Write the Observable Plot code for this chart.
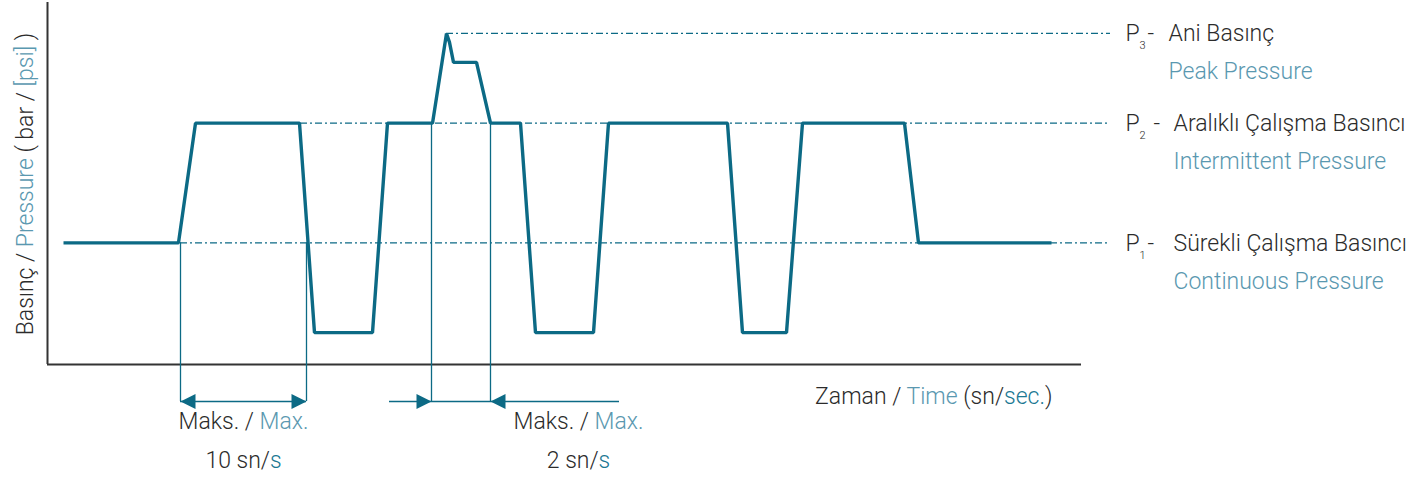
<!DOCTYPE html>
<html><head><meta charset="utf-8">
<script src="https://cdn.jsdelivr.net/npm/d3@7"></script>
<script src="https://cdn.jsdelivr.net/npm/@observablehq/plot@0.6"></script>
<style>
html,body{margin:0;padding:0;background:#fff;}
</style>
</head><body><div id="chart"></div>
<script>
// ---- data (schematic time units / pressure units) ----
const traceTime = [1.6, 13.1, 14.8, 25.2, 26.7, 32.5, 34.0, 38.5, 39.9, 40.2, 40.6, 42.9, 44.3, 47.3, 48.8, 54.6, 56.1, 68.0, 69.5, 73.9, 75.5, 85.7, 87.1, 100.4];
const tracePressure = [1.22, 1.22, 2.42, 2.42, 0.32, 0.32, 2.42, 2.42, 3.32, 3.23, 3.03, 3.03, 2.42, 2.42, 0.32, 0.32, 2.42, 2.42, 0.32, 0.32, 2.42, 2.42, 1.22, 1.22];

const levelValue = [3.32, 2.42, 1.22];
const levelStart = [39.9, 14.8, 13.3];
const levelEnd = 106.3;
const levelSub = ["3", "2", "1"];
const levelDash = ["-", "-", "-"];
const levelTurkish = ["Ani Basınç", "Aralıklı Çalışma Basıncı", "Sürekli Çalışma Basıncı"];
const levelEnglish = ["«Peak Pressure»", "«Intermittent Pressure»", "«Continuous Pressure»"];

const spanTime = [13.3, 25.9, 38.4, 44.3];
const spanFrom = [1.22, 1.22, 2.42, 2.42];
const arrowDir = ["left", "right", "right", "left"];
const arrowLevel = -0.371;
const leaderTime = [[13.3, 25.9], [34.2, 38.4], [38.4, 44.3], [44.3, 57.2]];
const spanLabelTime = [24.3, 57.8];
const spanLabelTop = ["Maks. / «Max.»", "Maks. / «Max.»"];
const spanLabelBottom = ["10 sn/‹s›", "2 sn/‹s›"];

const xTitle = "Zaman / «Time» (sn/‹sec.›)";
const yTitle = "Basınç / «Pressure» ( bar / «[psi]» )";

// ---- styles ----
const TEAL = "#0c6a85", LIGHT = "#5a98b0", TEALTXT = "#1b7893", DARK = "#2b2b2b", AXIS = "#333";
const FONT = "Roboto, 'Helvetica Neue', Arial, sans-serif";

const trace = traceTime.map((t, i) => ({t, p: tracePressure[i]}));
const levels = levelValue.map((v, i) => ({v, start: levelStart[i], sub: levelSub[i], dash: levelDash[i], tr: levelTurkish[i], en: levelEnglish[i], i}));
const spans = spanTime.map((t, i) => ({t, from: spanFrom[i], dir: arrowDir[i]}));
const leaders = leaderTime.map(([a, b]) => ({a, b}));
const spanLabels = spanLabelTime.map((t, i) => ({t, top: spanLabelTop[i], bottom: spanLabelBottom[i]}));

const triRight = {draw(c) { c.moveTo(0, 0); c.lineTo(-15, -7.5); c.lineTo(-15, 7.5); c.closePath(); }};
const triLeft = {draw(c) { c.moveTo(0, 0); c.lineTo(15, -7.5); c.lineTo(15, 7.5); c.closePath(); }};

const FS = 23;
const textOpts = {fontFamily: FONT, fontWeight: 300, fill: DARK};

const chart = Plot.plot({
  width: 1426, height: 478,
  marginLeft: 47, marginRight: 345, marginTop: 2, marginBottom: 114,
  x: {domain: [0, 103.4], axis: null},
  y: {domain: [0, 3.63], axis: null},
  style: {fontFamily: FONT, background: "#fff", overflow: "visible"},
  marks: [
    // axes
    Plot.ruleX([0], {y1: 0, y2: 3.63, stroke: AXIS, strokeWidth: 2}),
    Plot.ruleY([0], {x1: 0, x2: 103.4, stroke: AXIS, strokeWidth: 2}),
    // reference levels
    Plot.ruleY(levels, {y: "v", x1: "start", x2: levelEnd, stroke: TEAL, strokeWidth: 1.2, strokeDasharray: "7,3,2,3"}),
    // span verticals & leaders
    Plot.ruleX(spans, {x: "t", y1: "from", y2: arrowLevel, stroke: TEAL, strokeWidth: 1.3}),
    Plot.ruleY(leaders, {y: arrowLevel, x1: "a", x2: "b", stroke: TEAL, strokeWidth: 1.3}),
    Plot.dot(spans.filter(d => d.dir === "right"), {x: "t", y: arrowLevel, symbol: triRight, r: 5, fill: TEAL, stroke: "none"}),
    Plot.dot(spans.filter(d => d.dir === "left"), {x: "t", y: arrowLevel, symbol: triLeft, r: 5, fill: TEAL, stroke: "none"}),
    // main trace
    Plot.line(trace, {x: "t", y: "p", stroke: TEAL, strokeWidth: 3.4, strokeLinejoin: "miter", strokeLinecap: "butt"}),
    // right-hand level labels
    Plot.text(levels, {x: 107.8, y: "v", text: () => "P", dy: 8, textAnchor: "start", lineAnchor: "bottom", fontSize: FS, ...textOpts}),
    Plot.text(levels, {x: 109.2, y: "v", text: "sub", dy: 16, textAnchor: "start", lineAnchor: "bottom", fontSize: 11, ...textOpts}),
    Plot.text(levels, {x: d => d.i === 1 ? 110.6 : 110.0, y: "v", text: "dash", dy: 8, textAnchor: "start", lineAnchor: "bottom", fontSize: FS, ...textOpts}),
    Plot.text(levels, {x: d => d.i === 0 ? 112.1 : 112.6, y: "v", text: "tr", dy: 8, textAnchor: "start", lineAnchor: "bottom", fontSize: FS, ...textOpts}),
    Plot.text(levels, {x: d => d.i === 0 ? 112.1 : 112.6, y: "v", text: "en", dy: 46, textAnchor: "start", lineAnchor: "bottom", fontSize: FS, ...textOpts}),
    // span labels
    Plot.text(spanLabels, {x: "t", y: arrowLevel, text: "top", dy: 28, dx: -47, textAnchor: "middle", lineAnchor: "bottom", fontSize: FS, ...textOpts}),
    Plot.text(spanLabels, {x: "t", y: arrowLevel, text: "bottom", dy: 67, dx: -47, textAnchor: "middle", lineAnchor: "bottom", fontSize: FS, ...textOpts}),
    // axis titles
    Plot.text([xTitle], {x: 100.5, y: 0, text: d => d, dy: 39, textAnchor: "end", lineAnchor: "bottom", fontSize: FS, ...textOpts}),
    Plot.text([yTitle], {x: 0, y: 1.81, text: d => d, dx: -15, rotate: -90, textAnchor: "middle", lineAnchor: "bottom", fontSize: FS, ...textOpts})
  ]
});

// colour the marked segments of texts
d3.select(chart).selectAll("text").each(function() {
  const s = this.textContent;
  if (!/[«‹]/.test(s)) return;
  const parts = []; let cur = "", col = null;
  for (const ch of s) {
    if (ch === "«" || ch === "‹") { if (cur) parts.push([cur, null]); cur = ""; col = ch === "«" ? LIGHT : TEALTXT; }
    else if (ch === "»" || ch === "›") { parts.push([cur, col]); cur = ""; col = null; }
    else cur += ch;
  }
  if (cur) parts.push([cur, null]);
  const el = d3.select(this);
  el.text(null);
  for (const [t, c] of parts) { const ts = el.append("tspan").text(t); if (c) ts.attr("fill", c); }
});

document.getElementById("chart").appendChild(chart);
</script>
</body></html>
